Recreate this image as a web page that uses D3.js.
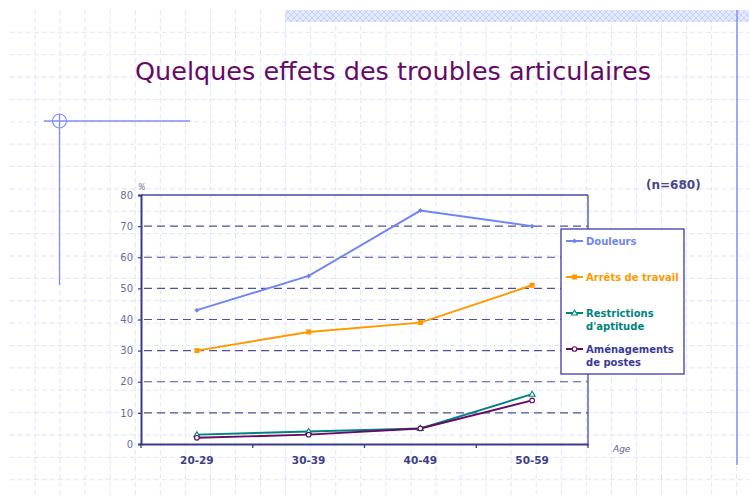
<!DOCTYPE html>
<html><head><meta charset="utf-8">
<script src="https://cdn.jsdelivr.net/npm/d3@7"></script>
<style>body{margin:0;background:#fff}svg{display:block}</style>
</head><body>
<svg id="c" width="749" height="498"></svg>
<script>
const categories = ["20-29","30-39","40-49","50-59"];
const douleurs = [43,54,75,70];
const arrets = [30,36,39,51];
const restrictions = [3,4,5,16];
const amenagements = [2,3,5,14];
const yTicks = [0,10,20,30,40,50,60,70,80];
const seriesNames = [["Douleurs"],["Arrêts de travail"],["Restrictions","d'aptitude"],["Aménagements","de postes"]];
const title = "Quelques effets des troubles articulaires";
const note = "(n=680)";

const series = [
  {name: seriesNames[0], values: douleurs, color: "#6f85f5", text: "#7085f2", marker: "diamond"},
  {name: seriesNames[1], values: arrets, color: "#ff9900", text: "#ff9900", marker: "square"},
  {name: seriesNames[2], values: restrictions, color: "#00837f", text: "#00837f", marker: "triangle"},
  {name: seriesNames[3], values: amenagements, color: "#660a66", text: "#3a3a96", marker: "circle"}
];

const svg = d3.select("#c");
const W = 749, H = 498;

// background dashed grid
const bg = svg.append("g");
for (let i = 0; i < 30; i++) {
  const x = 35 + i * 25.06;
  if (x > W) break;
  bg.append("line").attr("x1", x).attr("x2", x).attr("y1", 10).attr("y2", H)
    .attr("stroke", "#dfe5fc").attr("stroke-width", 1).attr("stroke-dasharray", "5,3");
}
for (let i = 0; i < 30; i++) {
  const y = 32.3 + i * 22.37;
  if (y > H) break;
  bg.append("line").attr("x1", 10).attr("x2", W).attr("y1", y).attr("y2", y)
    .attr("stroke", "#dfe5fc").attr("stroke-width", 1).attr("stroke-dasharray", "5,3");
}

// hatched band
const defs = svg.append("defs");
const pat = defs.append("pattern").attr("id", "hatch").attr("width", 6).attr("height", 6)
  .attr("patternUnits", "userSpaceOnUse");
pat.append("rect").attr("width", 6).attr("height", 6).attr("fill", "#e6eafd");
pat.append("path").attr("d", "M0,0 L6,6 M6,0 L0,6").attr("stroke", "#c6d0f9").attr("stroke-width", 1);
svg.append("rect").attr("x", 285).attr("y", 10).attr("width", W - 285).attr("height", 12).attr("fill", "url(#hatch)");

// right vertical line
svg.append("line").attr("x1", 737).attr("x2", 737).attr("y1", 10).attr("y2", 465)
  .attr("stroke", "#7f90f2").attr("stroke-width", 1.5);

// crosshair
svg.append("line").attr("x1", 44).attr("x2", 190).attr("y1", 121).attr("y2", 121).attr("stroke", "#7f90f2").attr("stroke-width", 1.3);
svg.append("line").attr("x1", 59.5).attr("x2", 59.5).attr("y1", 114).attr("y2", 285).attr("stroke", "#7f90f2").attr("stroke-width", 1.3);
svg.append("circle").attr("cx", 59.5).attr("cy", 121).attr("r", 7).attr("fill", "none").attr("stroke", "#7f90f2").attr("stroke-width", 1.2);

// title
svg.append("text").attr("x", 393).attr("y", 80).attr("text-anchor", "middle")
  .attr("font-family", "DejaVu Sans, sans-serif").attr("font-size", 25)
  .attr("textLength", 516).attr("lengthAdjust", "spacingAndGlyphs")
  .attr("fill", "#660a66").text(title);

// chart
const L = 141, R = 588, T = 195, B = 444;
const x = d3.scaleBand().domain(categories).range([L, R]);
const y = d3.scaleLinear().domain([0, 80]).range([B, T]);
const g = svg.append("g");

// dashed gridlines
g.selectAll(".grid").data(yTicks.filter(v => v > 0 && v < 80)).enter().append("line")
  .attr("x1", L).attr("x2", R).attr("y1", d => y(d)).attr("y2", d => y(d))
  .attr("stroke", "#50509a").attr("stroke-width", 1.2).attr("stroke-dasharray", "8,5")
  .attr("stroke-dashoffset", -3);

// frame top/right
g.append("line").attr("x1", L).attr("x2", R).attr("y1", T).attr("y2", T).attr("stroke", "#4a4a9a").attr("stroke-width", 1.3);
g.append("line").attr("x1", R).attr("x2", R).attr("y1", T).attr("y2", B).attr("stroke", "#4a4a9a").attr("stroke-width", 1.3);

// y axis
const yAxis = d3.axisLeft(y).tickValues(yTicks).tickSize(3).tickPadding(5);
const ya = g.append("g").attr("transform", `translate(${L},0)`).call(yAxis);
ya.select(".domain").attr("stroke", "#3a3a8a").attr("stroke-width", 2);
ya.selectAll(".tick line").attr("stroke", "#3a3a8a").attr("stroke-width", 1.2);
ya.selectAll(".tick text").attr("font-family", "DejaVu Sans, sans-serif").attr("font-size", 10).attr("fill", "#6a6a9e");

// x axis
const xAxis = d3.axisBottom(x).tickSize(0).tickPadding(13);
const xa = g.append("g").attr("transform", `translate(0,${B})`).call(xAxis);
xa.select(".domain").attr("stroke", "#3a3a8a").attr("stroke-width", 2);
xa.selectAll(".tick text").attr("font-family", "DejaVu Sans, sans-serif").attr("font-size", 10.5)
  .attr("font-weight", "bold").attr("fill", "#3e3e88");
// boundary ticks
const bounds = [L, ...categories.map(c => x(c) + x.bandwidth())];
g.selectAll(".xt").data(bounds).enter().append("line")
  .attr("x1", d => d).attr("x2", d => d).attr("y1", B).attr("y2", B + 4)
  .attr("stroke", "#3a3a8a").attr("stroke-width", 1.3);

// % and Age
svg.append("text").attr("x", 138).attr("y", 190).attr("font-family", "DejaVu Sans, sans-serif")
  .attr("font-size", 8).attr("font-style", "italic").attr("fill", "#6a6a9e").text("%");
svg.append("text").attr("x", 613).attr("y", 452).attr("font-family", "DejaVu Sans, sans-serif")
  .attr("font-size", 9).attr("font-style", "italic").attr("fill", "#5a5a98").text("Age");

// markers
function drawMarker(sel, type, color, cx, cy) {
  if (type === "diamond") {
    sel.append("path").attr("d", `M${cx},${cy-2.5}L${cx+2.5},${cy}L${cx},${cy+2.5}L${cx-2.5},${cy}Z`).attr("fill", color);
  } else if (type === "square") {
    sel.append("rect").attr("x", cx - 2.5).attr("y", cy - 2.5).attr("width", 5).attr("height", 5).attr("fill", color);
  } else if (type === "triangle") {
    sel.append("path").attr("d", `M${cx},${cy-3}L${cx+3},${cy+2}L${cx-3},${cy+2}Z`).attr("fill", "#fff").attr("stroke", color).attr("stroke-width", 1.1);
  } else {
    sel.append("circle").attr("cx", cx).attr("cy", cy).attr("r", 2.3).attr("fill", "#fff").attr("stroke", color).attr("stroke-width", 1.1);
  }
}

const line = d3.line().x((d, i) => x(categories[i]) + x.bandwidth() / 2).y(d => y(d));
series.forEach(s => {
  g.append("path").datum(s.values).attr("d", line).attr("fill", "none")
    .attr("stroke", s.color).attr("stroke-width", 1.9);
});
series.forEach(s => {
  s.values.forEach((v, i) => drawMarker(g, s.marker, s.color, x(categories[i]) + x.bandwidth() / 2, y(v)));
});

// legend
const lg = svg.append("g");
lg.append("rect").attr("x", 561).attr("y", 229).attr("width", 123).attr("height", 145)
  .attr("fill", "#fff").attr("stroke", "#3c3ca6").attr("stroke-width", 1.3);
const legY = [241, 277, 313, 349];
series.forEach((s, i) => {
  const ly = legY[i];
  lg.append("line").attr("x1", 566).attr("x2", 583).attr("y1", ly).attr("y2", ly).attr("stroke", s.color).attr("stroke-width", 2);
  drawMarker(lg, s.marker, s.color, 574.5, ly);
  s.name.forEach((t, j) => {
    lg.append("text").attr("x", 586).attr("y", ly + 4 + j * 13)
      .attr("font-family", "DejaVu Sans, sans-serif").attr("font-size", 10).attr("font-weight", "bold")
      .attr("fill", s.text).text(t);
  });
});

// note
svg.append("text").attr("x", 646).attr("y", 189).attr("font-family", "DejaVu Sans, sans-serif")
  .attr("font-size", 12).attr("font-weight", "bold").attr("fill", "#46468c").text(note);
</script>
</body></html>
